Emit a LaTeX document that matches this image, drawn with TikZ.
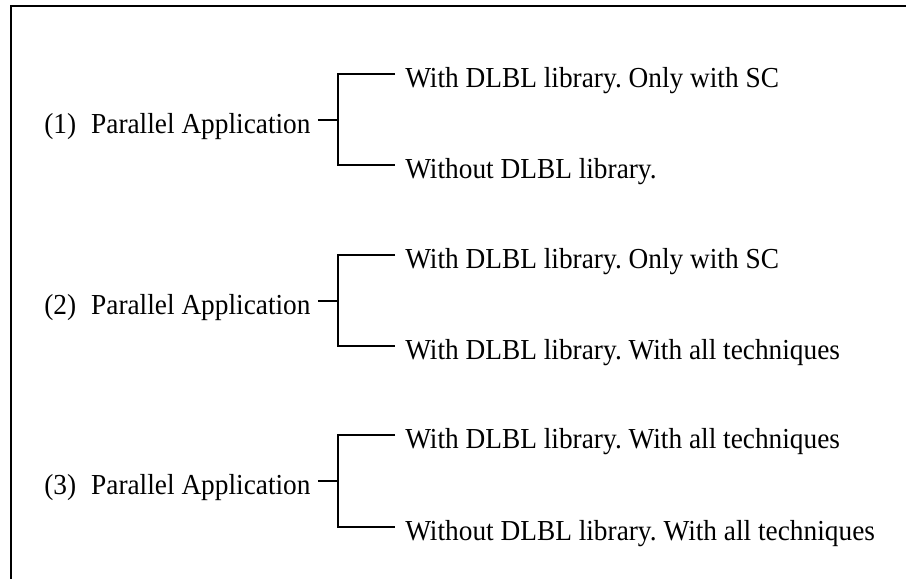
\documentclass[tikz,border=0pt]{standalone}
\usepackage{fontspec}
\setmainfont{Liberation Serif}
\frenchspacing
\begin{document}
\begin{tikzpicture}[x=0.75pt,y=-0.75pt,
  lbl/.style={inner sep=0pt,anchor=base west,yscale=1.06,transform shape,
    font=\fontsize{20.5}{24}\selectfont},
  wire/.style={line width=0.8pt,draw=black}]
\useasboundingbox (0,0) rectangle (906,579);
% open frame: top and left edges only
\draw[line width=0.9pt] (906,6) -- (11,6) -- (11,579);

% tree (1)
\coordinate (j1) at (338,120);
\coordinate (t1) at (338,74);
\coordinate (u1) at (338,165);
\node[lbl] (p1) at (44,133) {(1)\hspace{0.55em}Parallel Application};
\node[lbl] (a1) at (405,87) {With DLBL library. Only with SC};
\node[lbl] (b1) at (405,178) {Without DLBL library.};
\draw[wire] ([xshift=5.25pt]p1.east |- j1) -- (j1);
\draw[wire] ([xshift=-7.5pt]a1.west |- t1) -- (t1) -- (u1) -- ([xshift=-7.5pt]b1.west |- u1);

% tree (2)
\coordinate (j2) at (338,301);
\coordinate (t2) at (338,255);
\coordinate (u2) at (338,346);
\node[lbl] (p2) at (44,314) {(2)\hspace{0.55em}Parallel Application};
\node[lbl] (a2) at (405,268) {With DLBL library. Only with SC};
\node[lbl] (b2) at (405,359) {With DLBL library. With all techniques};
\draw[wire] ([xshift=5.25pt]p2.east |- j2) -- (j2);
\draw[wire] ([xshift=-7.5pt]a2.west |- t2) -- (t2) -- (u2) -- ([xshift=-7.5pt]b2.west |- u2);

% tree (3)
\coordinate (j3) at (338,481);
\coordinate (t3) at (338,435);
\coordinate (u3) at (338,527);
\node[lbl] (p3) at (44,494) {(3)\hspace{0.55em}Parallel Application};
\node[lbl] (a3) at (405,448) {With DLBL library. With all techniques};
\node[lbl] (b3) at (405,540) {Without DLBL library. With all techniques};
\draw[wire] ([xshift=5.25pt]p3.east |- j3) -- (j3);
\draw[wire] ([xshift=-7.5pt]a3.west |- t3) -- (t3) -- (u3) -- ([xshift=-7.5pt]b3.west |- u3);
\end{tikzpicture}
\end{document}
